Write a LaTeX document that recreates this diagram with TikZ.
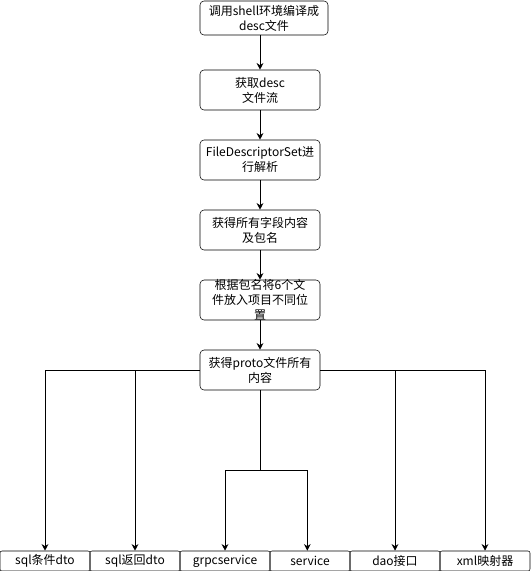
\documentclass[tikz,border=0pt]{standalone}
\usepackage{fontspec}
\setmainfont{Noto Sans CJK SC}
\usetikzlibrary{arrows.meta}
\tikzset{
  stepbox/.style={draw,rounded corners=3pt,minimum width=90pt,minimum height=30pt,
    inner sep=1pt,align=center,font=\fontsize{9pt}{11.25pt}\selectfont},
  outbox/.style={draw,rounded corners=1.5pt,minimum height=15pt,inner sep=1pt,
    font=\fontsize{9pt}{11.25pt}\selectfont},
  arr/.style={-{Stealth[length=5pt,width=5pt]},line width=0.75pt}
}
\begin{document}
\begin{tikzpicture}[x=0.75pt,y=-0.75pt]
\useasboundingbox (0,0) rectangle (531,571);
% main chain
\node [stepbox,minimum width=96pt,minimum height=25.5pt] (s1) at (264,18) {调用shell环境编译成\\desc文件};
\node [stepbox] (s2) at (260,90) {获取desc\\文件流};
\node [stepbox] (s3) at (260,160) {FileDescriptorSet进\\行解析};
\node [stepbox] (s4) at (260,230) {获得所有字段内容\\及包名};
\node [stepbox,inner ysep=-3pt] (s5) at (260,300) {根据包名将6个文\\件放入项目不同位\\置};
\node [stepbox] (s6) at (260,370) {获得proto文件所有\\内容};
% generated files
\node [outbox,minimum width=67.5pt] (b1) at (45,561) {sql条件dto};
\node [outbox,minimum width=67.5pt] (b2) at (135,561) {sql返回dto};
\node [outbox,minimum width=67.5pt] (b3) at (225,561) {grpcservice};
\node [outbox,minimum width=60pt] (b4) at (310,561) {service};
\node [outbox,minimum width=67.5pt] (b5) at (395,561) {dao接口};
\node [outbox,minimum width=67.5pt] (b6) at (485,561) {xml映射器};
\coordinate (j) at (260,470);
\draw [arr] (s1.south -| s2) -- (s2);
\draw [arr] (s2) -- (s3);
\draw [arr] (s3) -- (s4);
\draw [arr] (s4) -- (s5);
\draw [arr] (s5) -- (s6);
\draw [arr] (s6.west) -| (b1);
\draw [arr] (s6.west) -| (b2);
\draw [arr] (s6.east) -| (b5);
\draw [arr] (s6.east) -| (b6);
\draw [line width=0.75pt] (s6) -- (j);
\draw [arr] (j) -| (b3);
\draw [arr] (j) -| ([xshift=-2pt]b4.north);
\end{tikzpicture}
\end{document}
